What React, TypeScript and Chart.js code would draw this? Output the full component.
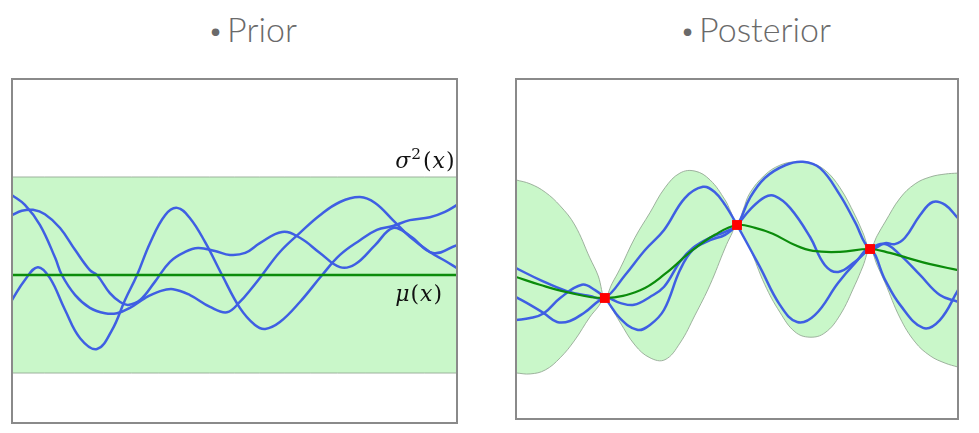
import React, { useEffect, useRef } from "react";
import { Chart, registerables } from "chart.js";

Chart.register(...registerables);

// ---------------- Prior panel data ----------------
const priorBandX = [0, 1];
const priorUpper = [2, 2];
const priorLower = [-2, -2];
const priorMean = [0, 0];

const priorX1 = [0, 0.029, 0.058, 0.085, 0.119, 0.153, 0.191, 0.225, 0.254, 0.281, 0.31, 0.344, 0.371, 0.4, 0.434, 0.472, 0.512, 0.546, 0.569, 0.602, 0.647, 0.697, 0.737, 0.782, 0.82, 0.856, 0.894, 0.939, 0.973, 1];
const priorY1 = [-0.51, -0.1, 0.16, -0.06, -0.71, -1.29, -1.51, -1.12, -0.51, 0, 0.65, 1.22, 1.37, 1.16, 0.67, 0, -0.67, -1.02, -1.1, -0.96, -0.55, 0, 0.41, 0.71, 0.92, 1.0, 1.12, 1.18, 1.29, 1.43];

const priorX2 = [0, 0.029, 0.063, 0.097, 0.112, 0.142, 0.175, 0.209, 0.236, 0.265, 0.299, 0.333, 0.362, 0.4, 0.445, 0.483, 0.512, 0.535, 0.562, 0.602, 0.647, 0.692, 0.737, 0.782, 0.816, 0.856, 0.894, 0.939, 0.973, 1];
const priorY2 = [1.63, 1.43, 1.02, 0.35, 0, -0.41, -0.67, -0.78, -0.78, -0.67, -0.47, -0.33, -0.29, -0.41, -0.65, -0.76, -0.55, -0.31, 0, 0.47, 0.86, 1.22, 1.49, 1.59, 1.47, 1.12, 0.78, 0.47, 0.29, 0.14];

const priorX3 = [0, 0.022, 0.047, 0.074, 0.108, 0.142, 0.175, 0.191, 0.22, 0.243, 0.261, 0.288, 0.321, 0.355, 0.389, 0.418, 0.456, 0.49, 0.524, 0.557, 0.607, 0.647, 0.692, 0.737, 0.771, 0.816, 0.856, 0.894, 0.946, 1];
const priorY3 = [1.22, 1.31, 1.33, 1.24, 0.96, 0.51, 0.1, 0, -0.37, -0.55, -0.61, -0.51, -0.14, 0.27, 0.47, 0.55, 0.49, 0.41, 0.45, 0.65, 0.88, 0.76, 0.45, 0.16, 0.22, 0.61, 0.96, 0.8, 0.45, 0.61];

// ---------------- Posterior panel data ----------------
const obsX = [0.201, 0.5, 0.801];
const obsY = [-0.47, 1.02, 0.53];

const postMeanX = [0, 0.054, 0.115, 0.201, 0.281, 0.337, 0.4, 0.45, 0.5, 0.541, 0.581, 0.631, 0.672, 0.733, 0.801, 0.846, 0.885, 0.937, 1];
const postMeanY = [-0.04, -0.2, -0.35, -0.47, -0.31, 0.02, 0.51, 0.82, 1.02, 0.96, 0.84, 0.61, 0.49, 0.47, 0.53, 0.45, 0.35, 0.22, 0.1];

const postBandX = [0, 0.032, 0.066, 0.1, 0.133, 0.167, 0.186, 0.201, 0.217, 0.235, 0.269, 0.303, 0.337, 0.371, 0.405, 0.439, 0.473, 0.486, 0.5, 0.514, 0.529, 0.563, 0.597, 0.631, 0.665, 0.699, 0.733, 0.767, 0.785, 0.801, 0.817, 0.835, 0.869, 0.903, 0.937, 0.971, 1];
const postUpper = [1.94, 1.86, 1.69, 1.41, 1.02, 0.35, -0.02, -0.47, -0.18, 0.12, 0.76, 1.27, 1.78, 2.08, 2.12, 1.94, 1.53, 1.29, 1.02, 1.33, 1.67, 2.04, 2.24, 2.31, 2.29, 2.14, 1.78, 1.22, 0.86, 0.53, 0.8, 1.08, 1.57, 1.86, 2.0, 2.06, 2.08];
const postLower = [-2.0, -2.02, -1.94, -1.69, -1.33, -0.86, -0.65, -0.47, -0.69, -0.96, -1.43, -1.69, -1.73, -1.39, -0.82, -0.2, 0.55, 0.8, 1.02, 0.8, 0.55, -0.2, -0.76, -1.16, -1.27, -1.18, -0.82, -0.2, 0.18, 0.53, 0.2, -0.16, -0.88, -1.37, -1.65, -1.8, -1.88];

const postXA = [0, 0.054, 0.115, 0.167, 0.201, 0.247, 0.292, 0.335, 0.382, 0.423, 0.45, 0.473, 0.5, 0.552, 0.597, 0.636, 0.676, 0.729, 0.767, 0.801, 0.835, 0.869, 0.921, 0.959, 1];
const postYA = [0.14, -0.1, -0.33, -0.43, -0.47, 0, 0.51, 0.92, 1.57, 1.8, 1.69, 1.43, 1.02, 0.16, -0.61, -0.96, -0.82, -0.16, 0.24, 0.53, -0.1, -0.61, -1.08, -0.92, -0.31];

const postXB = [0, 0.032, 0.063, 0.093, 0.122, 0.156, 0.201, 0.235, 0.267, 0.303, 0.335, 0.371, 0.4, 0.439, 0.473, 0.5, 0.529, 0.563, 0.609, 0.649, 0.688, 0.733, 0.767, 0.801, 0.835, 0.857, 0.88, 0.914, 0.943, 0.971, 1];
const postYB = [-0.45, -0.61, -0.78, -0.96, -0.94, -0.76, -0.47, -0.57, -0.61, -0.45, -0.24, 0.27, 0.55, 0.76, 0.88, 1.02, 1.57, 1.98, 2.24, 2.31, 2.18, 1.63, 1.08, 0.53, 0.65, 0.63, 0.76, 1.22, 1.49, 1.43, 1.16];

const postXC = [0, 0.032, 0.063, 0.1, 0.149, 0.179, 0.201, 0.235, 0.274, 0.303, 0.335, 0.371, 0.4, 0.439, 0.473, 0.5, 0.529, 0.563, 0.586, 0.62, 0.665, 0.699, 0.729, 0.767, 0.801, 0.835, 0.869, 0.914, 0.959, 1];
const postYC = [-0.92, -0.88, -0.78, -0.47, -0.2, -0.31, -0.47, -0.88, -1.12, -1.02, -0.71, 0.1, 0.51, 0.71, 0.82, 1.02, 1.33, 1.59, 1.61, 1.37, 0.78, 0.2, 0.06, 0.27, 0.53, 0.63, 0.41, 0, -0.41, -0.55];

// label anchors (data units)
const labelX = 0.861;
const sigmaLabelY = 2.18;
const muLabelY = -0.53;

// ---------------- styling ----------------
const BLUE = "#3f5fe3";
const GREEN = "#0b8c0b";
const BAND = "rgb(201,247,201)";
const BAND_EDGE = "rgba(150,170,150,0.9)";

const zip = (xs: number[], ys: number[]) => xs.map((x, i) => ({ x, y: ys[i] }));

const curve = (xs: number[], ys: number[], color: string, width: number) => ({
  data: zip(xs, ys),
  borderColor: color,
  borderWidth: width,
  pointRadius: 0,
  fill: false,
  tension: 0.4,
});

const boxPlugin = {
  id: "box",
  afterDatasetsDraw(chart: any) {
    const { ctx, chartArea } = chart;
    ctx.save();
    ctx.strokeStyle = "#8a8a8a";
    ctx.lineWidth = 2;
    ctx.strokeRect(chartArea.left, chartArea.top, chartArea.right - chartArea.left, chartArea.bottom - chartArea.top);
    ctx.restore();
  },
};

type Piece = { t: string; italic?: boolean; sup?: boolean };
function drawMath(ctx: CanvasRenderingContext2D, x: number, y: number, pieces: Piece[], size: number) {
  let cx = x;
  for (const p of pieces) {
    const fs = p.sup ? size * 0.7 : size;
    ctx.font = `${p.italic ? "italic " : ""}${fs}px 'DejaVu Serif', serif`;
    ctx.fillText(p.t, cx, p.sup ? y - size * 0.42 : y);
    cx += ctx.measureText(p.t).width + (p.sup ? 2 : 1);
  }
}

const labelPlugin = {
  id: "labels",
  afterDatasetsDraw(chart: any) {
    const { ctx, scales } = chart;
    const px = scales.x.getPixelForValue(labelX);
    ctx.save();
    ctx.fillStyle = "#111";
    ctx.textBaseline = "alphabetic";
    drawMath(ctx, px, scales.y.getPixelForValue(sigmaLabelY), [
      { t: "σ", italic: true },
      { t: "2", sup: true },
      { t: "(" },
      { t: "x", italic: true },
      { t: ")" },
    ], 22);
    drawMath(ctx, px, scales.y.getPixelForValue(muLabelY), [
      { t: "μ", italic: true },
      { t: "(" },
      { t: "x", italic: true },
      { t: ")" },
    ], 22);
    ctx.restore();
  },
};

const baseOptions = (yMin: number, yMax: number, padding: any) => ({
  animation: false,
  responsive: false,
  maintainAspectRatio: false,
  events: [],
  layout: { padding },
  scales: {
    x: { type: "linear", min: 0, max: 1, display: false },
    y: { type: "linear", min: yMin, max: yMax, display: false },
  },
  plugins: {
    legend: { display: false },
    tooltip: { enabled: false },
    filler: { drawTime: "beforeDatasetsDraw" },
  },
});

function PriorChart() {
  const ref = useRef<HTMLCanvasElement>(null);
  useEffect(() => {
    const chart = new Chart(ref.current!, {
      type: "line",
      data: {
        datasets: [
          curve(priorBandX, priorMean, GREEN, 2.5),
          curve(priorX1, priorY1, BLUE, 2.5),
          curve(priorX2, priorY2, BLUE, 2.5),
          curve(priorX3, priorY3, BLUE, 2.5),
          { ...curve(priorBandX, priorUpper, BAND_EDGE, 1), fill: "+1", backgroundColor: BAND },
          curve(priorBandX, priorLower, BAND_EDGE, 1),
        ] as any,
      },
      options: baseOptions(-3.02, 4, { left: 12, top: 79, right: 33, bottom: 10 }) as any,
      plugins: [boxPlugin, labelPlugin],
    });
    return () => chart.destroy();
  }, []);
  return <canvas ref={ref} width={490} height={433} style={{ position: "absolute", left: 0, top: 0 }} />;
}

function PosteriorChart() {
  const ref = useRef<HTMLCanvasElement>(null);
  useEffect(() => {
    const chart = new Chart(ref.current!, {
      type: "line",
      data: {
        datasets: [
          {
            data: zip(obsX, obsY),
            showLine: false,
            pointStyle: "rect",
            pointRadius: 7,
            pointBackgroundColor: "#ff0000",
            pointBorderWidth: 0,
            borderColor: "#ff0000",
          },
          curve(postMeanX, postMeanY, GREEN, 2.2),
          curve(postXA, postYA, BLUE, 2.5),
          curve(postXB, postYB, BLUE, 2.5),
          curve(postXC, postYC, BLUE, 2.5),
          { ...curve(postBandX, postUpper, BAND_EDGE, 1), fill: "+1", backgroundColor: BAND },
          curve(postBandX, postLower, BAND_EDGE, 1),
        ] as any,
      },
      options: baseOptions(-2.94, 4, { left: 26, top: 79, right: 21, bottom: 14 }) as any,
      plugins: [boxPlugin],
    });
    return () => chart.destroy();
  }, []);
  return <canvas ref={ref} width={489} height={433} style={{ position: "absolute", left: 490, top: 0 }} />;
}

const titleStyle: React.CSSProperties = {
  position: "absolute",
  top: 12,
  fontFamily: "Lato, 'Open Sans', sans-serif",
  fontWeight: 300,
  fontSize: 34,
  lineHeight: "34px",
  color: "#6a6a6a",
  textAlign: "center",
  whiteSpace: "nowrap",
};

const bulletStyle: React.CSSProperties = { fontSize: 26, marginRight: 4, verticalAlign: "2px" };

export default function App() {
  return (
    <div style={{ position: "fixed", left: 0, top: 0, width: 979, height: 433, background: "#fff", overflow: "hidden" }}>
      <div style={{ ...titleStyle, left: 0, width: 505 }}><span style={bulletStyle}>•</span>Prior</div>
      <div style={{ ...titleStyle, left: 500, width: 511 }}><span style={bulletStyle}>•</span>Posterior</div>
      <PriorChart />
      <PosteriorChart />
    </div>
  );
}
